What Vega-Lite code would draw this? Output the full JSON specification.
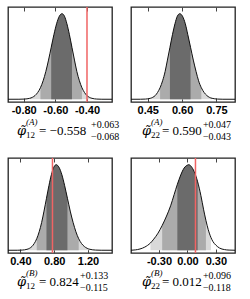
{
"$schema":"https://vega.github.io/schema/vega-lite/v6.json",
"padding":{"left":5,"top":5,"right":5,"bottom":5},
"bounds":"flush",
"columns":2,
"spacing":{"row":56,"column":19},
"config":{
 "view":{"stroke":"#222","strokeWidth":1.3},
 "locale":{"number":{"decimal":".","thousands":",","grouping":[3],"currency":["$",""],"minus":"-"}},
 "axis":{"domain":false,"grid":false,"labelFont":"Liberation Sans","labelFontWeight":"bold","labelFontSize":11,"labelColor":"#000","tickColor":"#444","tickSize":-4,"labelPadding":6,"tickWidth":1},
 "text":{"font":"Liberation Serif","align":"left","baseline":"alphabetic","color":"#000"}
},
"datasets":{
"curves":[
{"p":"A12","x":-0.899,"y":0,"lev":0},{"p":"A12","x":-0.830,"y":0.0003,"lev":0},{"p":"A12","x":-0.796,"y":0.0022,"lev":0},{"p":"A12","x":-0.762,"y":0.0111,"lev":1},{"p":"A12","x":-0.745,"y":0.0228,"lev":1},{"p":"A12","x":-0.728,"y":0.0439,"lev":1},{"p":"A12","x":-0.711,"y":0.0796,"lev":1},{"p":"A12","x":-0.694,"y":0.1353,"lev":2},{"p":"A12","x":-0.677,"y":0.2163,"lev":2},{"p":"A12","x":-0.660,"y":0.3247,"lev":2},{"p":"A12","x":-0.643,"y":0.4578,"lev":2},{"p":"A12","x":-0.626,"y":0.6065,"lev":3},{"p":"A12","x":-0.609,"y":0.7548,"lev":3},{"p":"A12","x":-0.592,"y":0.8825,"lev":3},{"p":"A12","x":-0.575,"y":0.9692,"lev":3},{"p":"A12","x":-0.558,"y":1,"lev":3},{"p":"A12","x":-0.542,"y":0.9692,"lev":3},{"p":"A12","x":-0.527,"y":0.8825,"lev":3},{"p":"A12","x":-0.511,"y":0.7548,"lev":3},{"p":"A12","x":-0.495,"y":0.6065,"lev":3},{"p":"A12","x":-0.479,"y":0.4578,"lev":2},{"p":"A12","x":-0.464,"y":0.3247,"lev":2},{"p":"A12","x":-0.448,"y":0.2163,"lev":2},{"p":"A12","x":-0.432,"y":0.1353,"lev":2},{"p":"A12","x":-0.416,"y":0.0796,"lev":1},{"p":"A12","x":-0.401,"y":0.0439,"lev":1},{"p":"A12","x":-0.385,"y":0.0228,"lev":1},{"p":"A12","x":-0.369,"y":0.0111,"lev":1},{"p":"A12","x":-0.338,"y":0.0022,"lev":0},{"p":"A12","x":-0.306,"y":0.0003,"lev":0},{"p":"A12","x":-0.242,"y":0,"lev":0},
{"p":"A22","x":0.377,"y":0,"lev":0},{"p":"A22","x":0.418,"y":0.0003,"lev":0},{"p":"A22","x":0.440,"y":0.0022,"lev":0},{"p":"A22","x":0.461,"y":0.0111,"lev":1},{"p":"A22","x":0.472,"y":0.0228,"lev":1},{"p":"A22","x":0.483,"y":0.0439,"lev":1},{"p":"A22","x":0.493,"y":0.0796,"lev":1},{"p":"A22","x":0.504,"y":0.1353,"lev":2},{"p":"A22","x":0.515,"y":0.2163,"lev":2},{"p":"A22","x":0.526,"y":0.3247,"lev":2},{"p":"A22","x":0.536,"y":0.4578,"lev":2},{"p":"A22","x":0.547,"y":0.6065,"lev":3},{"p":"A22","x":0.558,"y":0.7548,"lev":3},{"p":"A22","x":0.569,"y":0.8825,"lev":3},{"p":"A22","x":0.579,"y":0.9692,"lev":3},{"p":"A22","x":0.590,"y":1,"lev":3},{"p":"A22","x":0.602,"y":0.9692,"lev":3},{"p":"A22","x":0.614,"y":0.8825,"lev":3},{"p":"A22","x":0.625,"y":0.7548,"lev":3},{"p":"A22","x":0.637,"y":0.6065,"lev":3},{"p":"A22","x":0.649,"y":0.4578,"lev":2},{"p":"A22","x":0.661,"y":0.3247,"lev":2},{"p":"A22","x":0.672,"y":0.2163,"lev":2},{"p":"A22","x":0.684,"y":0.1353,"lev":2},{"p":"A22","x":0.696,"y":0.0796,"lev":1},{"p":"A22","x":0.708,"y":0.0439,"lev":1},{"p":"A22","x":0.719,"y":0.0228,"lev":1},{"p":"A22","x":0.731,"y":0.0111,"lev":1},{"p":"A22","x":0.755,"y":0.0022,"lev":0},{"p":"A22","x":0.778,"y":0.0003,"lev":0},{"p":"A22","x":0.831,"y":0,"lev":0},
{"p":"B12","x":0.254,"y":0,"lev":0},{"p":"B12","x":0.364,"y":0.0003,"lev":0},{"p":"B12","x":0.422,"y":0.0022,"lev":0},{"p":"B12","x":0.479,"y":0.0111,"lev":1},{"p":"B12","x":0.508,"y":0.0228,"lev":1},{"p":"B12","x":0.537,"y":0.0439,"lev":1},{"p":"B12","x":0.565,"y":0.0796,"lev":1},{"p":"B12","x":0.594,"y":0.1353,"lev":2},{"p":"B12","x":0.623,"y":0.2163,"lev":2},{"p":"B12","x":0.652,"y":0.3247,"lev":2},{"p":"B12","x":0.680,"y":0.4578,"lev":2},{"p":"B12","x":0.709,"y":0.6065,"lev":3},{"p":"B12","x":0.738,"y":0.7548,"lev":3},{"p":"B12","x":0.767,"y":0.8825,"lev":3},{"p":"B12","x":0.795,"y":0.9692,"lev":3},{"p":"B12","x":0.824,"y":1,"lev":3},{"p":"B12","x":0.857,"y":0.9692,"lev":3},{"p":"B12","x":0.891,"y":0.8825,"lev":3},{"p":"B12","x":0.924,"y":0.7548,"lev":3},{"p":"B12","x":0.957,"y":0.6065,"lev":3},{"p":"B12","x":0.990,"y":0.4578,"lev":2},{"p":"B12","x":1.024,"y":0.3247,"lev":2},{"p":"B12","x":1.057,"y":0.2163,"lev":2},{"p":"B12","x":1.090,"y":0.1353,"lev":2},{"p":"B12","x":1.123,"y":0.0796,"lev":1},{"p":"B12","x":1.157,"y":0.0439,"lev":1},{"p":"B12","x":1.190,"y":0.0228,"lev":1},{"p":"B12","x":1.223,"y":0.0111,"lev":1},{"p":"B12","x":1.290,"y":0.0022,"lev":0},{"p":"B12","x":1.356,"y":0.0003,"lev":0},{"p":"B12","x":1.484,"y":0,"lev":0},
{"p":"B22","x":-0.595,"y":0,"lev":0},{"p":"B22","x":-0.55,"y":0.004,"lev":0},{"p":"B22","x":-0.50,"y":0.015,"lev":0},{"p":"B22","x":-0.45,"y":0.037,"lev":0},{"p":"B22","x":-0.39,"y":0.085,"lev":1},{"p":"B22","x":-0.355,"y":0.13,"lev":1},{"p":"B22","x":-0.31,"y":0.20,"lev":1},{"p":"B22","x":-0.266,"y":0.29,"lev":2},{"p":"B22","x":-0.22,"y":0.40,"lev":2},{"p":"B22","x":-0.177,"y":0.52,"lev":2},{"p":"B22","x":-0.14,"y":0.65,"lev":2},{"p":"B22","x":-0.106,"y":0.77,"lev":3},{"p":"B22","x":-0.07,"y":0.88,"lev":3},{"p":"B22","x":-0.035,"y":0.96,"lev":3},{"p":"B22","x":0.0,"y":0.995,"lev":3},{"p":"B22","x":0.012,"y":1.0,"lev":3},{"p":"B22","x":0.04,"y":0.98,"lev":3},{"p":"B22","x":0.071,"y":0.92,"lev":3},{"p":"B22","x":0.108,"y":0.80,"lev":3},{"p":"B22","x":0.142,"y":0.64,"lev":2},{"p":"B22","x":0.17,"y":0.48,"lev":2},{"p":"B22","x":0.195,"y":0.35,"lev":2},{"p":"B22","x":0.22,"y":0.24,"lev":1},{"p":"B22","x":0.248,"y":0.15,"lev":1},{"p":"B22","x":0.27,"y":0.10,"lev":0},{"p":"B22","x":0.30,"y":0.06,"lev":0},{"p":"B22","x":0.34,"y":0.025,"lev":0},{"p":"B22","x":0.39,"y":0.008,"lev":0},{"p":"B22","x":0.44,"y":0.002,"lev":0},{"p":"B22","x":0.502,"y":0,"lev":0}
],
"truth":[{"p":"A12","v":-0.40},{"p":"B12","v":0.78},{"p":"B22","v":0.085}]
},
"concat":[
{"width":104,"height":95,"resolve":{"axis":{"x":"independent","y":"independent"}},
 "layer":[
  {"data":{"name":"curves"},"transform":[{"filter":"datum.p==='A12' && datum.lev>=1"}],"mark":{"type":"area","color":"#d9d9d9","interpolate":"monotone"},
   "encoding":{"x":{"field":"x","type":"quantitative","title":null,"scale":{"domain":[-0.899,-0.242],"nice":false,"zero":false},"axis":{"orient":"bottom","values":[-0.8,-0.6,-0.4],"format":".2f"}},"y":{"field":"y","type":"quantitative","scale":{"domain":[-0.032,1.078],"nice":false,"zero":false},"axis":null}}},
  {"data":{"name":"curves"},"transform":[{"filter":"datum.p==='A12' && datum.lev>=2"}],"mark":{"type":"area","color":"#ababab","interpolate":"monotone"},
   "encoding":{"x":{"field":"x","type":"quantitative","axis":null},"y":{"field":"y","type":"quantitative","axis":null}}},
  {"data":{"name":"curves"},"transform":[{"filter":"datum.p==='A12' && datum.lev>=3"}],"mark":{"type":"area","color":"#6b6b6b","interpolate":"monotone"},
   "encoding":{"x":{"field":"x","type":"quantitative","axis":null},"y":{"field":"y","type":"quantitative","axis":null}}},
  {"data":{"name":"curves"},"transform":[{"filter":"datum.p==='A12'"}],"mark":{"type":"line","color":"#111","strokeWidth":1,"interpolate":"monotone"},
   "encoding":{"x":{"field":"x","type":"quantitative","title":null,"axis":{"orient":"top","values":[-0.8,-0.6,-0.4],"labels":false}},"y":{"field":"y","type":"quantitative","axis":null}}},
  {"data":{"name":"truth"},"transform":[{"filter":"datum.p==='A12'"}],"mark":{"type":"rule","color":"#f06464","strokeWidth":1.5},
   "encoding":{"x":{"field":"v","type":"quantitative","axis":null}}},
  {"data":{"values":[{}]},"mark":{"type":"text","text":"φ̃","font":"DejaVu Serif","fontSize":13,"fontStyle":"italic"},"encoding":{"x":{"datum":-0.842,"axis":null},"y":{"datum":-0.418,"axis":null}}},
  {"data":{"values":[{}]},"mark":{"type":"text","text":"(A)","fontSize":9,"fontStyle":"italic"},"encoding":{"x":{"datum":-0.785,"axis":null},"y":{"datum":-0.301,"axis":null}}},
  {"data":{"values":[{}]},"mark":{"type":"text","text":"12","fontSize":9},"encoding":{"x":{"datum":-0.785,"axis":null},"y":{"datum":-0.453,"axis":null}}},
  {"data":{"values":[{}]},"mark":{"type":"text","text":"= −0.558","fontSize":13},"encoding":{"x":{"datum":-0.703,"axis":null},"y":{"datum":-0.418,"axis":null}}},
  {"data":{"values":[{}]},"mark":{"type":"text","text":"+0.063","fontSize":10},"encoding":{"x":{"datum":-0.374,"axis":null},"y":{"datum":-0.336,"axis":null}}},
  {"data":{"values":[{}]},"mark":{"type":"text","text":"−0.068","fontSize":10},"encoding":{"x":{"datum":-0.374,"axis":null},"y":{"datum":-0.476,"axis":null}}}
 ]},
{"width":104,"height":95,"resolve":{"axis":{"x":"independent","y":"independent"}},
 "layer":[
  {"data":{"name":"curves"},"transform":[{"filter":"datum.p==='A22' && datum.lev>=1"}],"mark":{"type":"area","color":"#d9d9d9","interpolate":"monotone"},
   "encoding":{"x":{"field":"x","type":"quantitative","title":null,"scale":{"domain":[0.377,0.831],"nice":false,"zero":false},"axis":{"orient":"bottom","values":[0.45,0.6,0.75],"format":".2f"}},"y":{"field":"y","type":"quantitative","scale":{"domain":[-0.032,1.078],"nice":false,"zero":false},"axis":null}}},
  {"data":{"name":"curves"},"transform":[{"filter":"datum.p==='A22' && datum.lev>=2"}],"mark":{"type":"area","color":"#ababab","interpolate":"monotone"},
   "encoding":{"x":{"field":"x","type":"quantitative","axis":null},"y":{"field":"y","type":"quantitative","axis":null}}},
  {"data":{"name":"curves"},"transform":[{"filter":"datum.p==='A22' && datum.lev>=3"}],"mark":{"type":"area","color":"#6b6b6b","interpolate":"monotone"},
   "encoding":{"x":{"field":"x","type":"quantitative","axis":null},"y":{"field":"y","type":"quantitative","axis":null}}},
  {"data":{"name":"curves"},"transform":[{"filter":"datum.p==='A22'"}],"mark":{"type":"line","color":"#111","strokeWidth":1,"interpolate":"monotone"},
   "encoding":{"x":{"field":"x","type":"quantitative","title":null,"axis":{"orient":"top","values":[0.45,0.6,0.75],"labels":false}},"y":{"field":"y","type":"quantitative","axis":null}}},
  {"data":{"values":[{}]},"mark":{"type":"text","text":"φ̃","font":"DejaVu Serif","fontSize":13,"fontStyle":"italic"},"encoding":{"x":{"datum":0.425,"axis":null},"y":{"datum":-0.418,"axis":null}}},
  {"data":{"values":[{}]},"mark":{"type":"text","text":"(A)","fontSize":9,"fontStyle":"italic"},"encoding":{"x":{"datum":0.464,"axis":null},"y":{"datum":-0.301,"axis":null}}},
  {"data":{"values":[{}]},"mark":{"type":"text","text":"22","fontSize":9},"encoding":{"x":{"datum":0.464,"axis":null},"y":{"datum":-0.453,"axis":null}}},
  {"data":{"values":[{}]},"mark":{"type":"text","text":"= 0.590","fontSize":13},"encoding":{"x":{"datum":0.512,"axis":null},"y":{"datum":-0.418,"axis":null}}},
  {"data":{"values":[{}]},"mark":{"type":"text","text":"+0.047","fontSize":10},"encoding":{"x":{"datum":0.691,"axis":null},"y":{"datum":-0.336,"axis":null}}},
  {"data":{"values":[{}]},"mark":{"type":"text","text":"−0.043","fontSize":10},"encoding":{"x":{"datum":0.691,"axis":null},"y":{"datum":-0.476,"axis":null}}}
 ]},
{"width":104,"height":95,"resolve":{"axis":{"x":"independent","y":"independent"}},
 "layer":[
  {"data":{"name":"curves"},"transform":[{"filter":"datum.p==='B12' && datum.lev>=1"}],"mark":{"type":"area","color":"#d9d9d9","interpolate":"monotone"},
   "encoding":{"x":{"field":"x","type":"quantitative","title":null,"scale":{"domain":[0.254,1.484],"nice":false,"zero":false},"axis":{"orient":"bottom","values":[0.4,0.8,1.2],"format":".2f"}},"y":{"field":"y","type":"quantitative","scale":{"domain":[-0.032,1.078],"nice":false,"zero":false},"axis":null}}},
  {"data":{"name":"curves"},"transform":[{"filter":"datum.p==='B12' && datum.lev>=2"}],"mark":{"type":"area","color":"#ababab","interpolate":"monotone"},
   "encoding":{"x":{"field":"x","type":"quantitative","axis":null},"y":{"field":"y","type":"quantitative","axis":null}}},
  {"data":{"name":"curves"},"transform":[{"filter":"datum.p==='B12' && datum.lev>=3"}],"mark":{"type":"area","color":"#6b6b6b","interpolate":"monotone"},
   "encoding":{"x":{"field":"x","type":"quantitative","axis":null},"y":{"field":"y","type":"quantitative","axis":null}}},
  {"data":{"name":"curves"},"transform":[{"filter":"datum.p==='B12'"}],"mark":{"type":"line","color":"#111","strokeWidth":1,"interpolate":"monotone"},
   "encoding":{"x":{"field":"x","type":"quantitative","title":null,"axis":{"orient":"top","values":[0.4,0.8,1.2],"labels":false}},"y":{"field":"y","type":"quantitative","axis":null}}},
  {"data":{"name":"truth"},"transform":[{"filter":"datum.p==='B12'"}],"mark":{"type":"rule","color":"#f06464","strokeWidth":1.5},
   "encoding":{"x":{"field":"v","type":"quantitative","axis":null}}},
  {"data":{"values":[{}]},"mark":{"type":"text","text":"φ̃","font":"DejaVu Serif","fontSize":13,"fontStyle":"italic"},"encoding":{"x":{"datum":0.360,"axis":null},"y":{"datum":-0.418,"axis":null}}},
  {"data":{"values":[{}]},"mark":{"type":"text","text":"(B)","fontSize":9,"fontStyle":"italic"},"encoding":{"x":{"datum":0.467,"axis":null},"y":{"datum":-0.301,"axis":null}}},
  {"data":{"values":[{}]},"mark":{"type":"text","text":"12","fontSize":9},"encoding":{"x":{"datum":0.467,"axis":null},"y":{"datum":-0.453,"axis":null}}},
  {"data":{"values":[{}]},"mark":{"type":"text","text":"= 0.824","fontSize":13},"encoding":{"x":{"datum":0.621,"axis":null},"y":{"datum":-0.418,"axis":null}}},
  {"data":{"values":[{}]},"mark":{"type":"text","text":"+0.133","fontSize":10},"encoding":{"x":{"datum":1.106,"axis":null},"y":{"datum":-0.336,"axis":null}}},
  {"data":{"values":[{}]},"mark":{"type":"text","text":"−0.115","fontSize":10},"encoding":{"x":{"datum":1.106,"axis":null},"y":{"datum":-0.476,"axis":null}}}
 ]},
{"width":104,"height":95,"resolve":{"axis":{"x":"independent","y":"independent"}},
 "layer":[
  {"data":{"name":"curves"},"transform":[{"filter":"datum.p==='B22' && datum.lev>=1"}],"mark":{"type":"area","color":"#d9d9d9","interpolate":"monotone"},
   "encoding":{"x":{"field":"x","type":"quantitative","title":null,"scale":{"domain":[-0.595,0.502],"nice":false,"zero":false},"axis":{"orient":"bottom","values":[-0.3,0,0.3],"format":".2f"}},"y":{"field":"y","type":"quantitative","scale":{"domain":[-0.032,1.078],"nice":false,"zero":false},"axis":null}}},
  {"data":{"name":"curves"},"transform":[{"filter":"datum.p==='B22' && datum.lev>=2"}],"mark":{"type":"area","color":"#ababab","interpolate":"monotone"},
   "encoding":{"x":{"field":"x","type":"quantitative","axis":null},"y":{"field":"y","type":"quantitative","axis":null}}},
  {"data":{"name":"curves"},"transform":[{"filter":"datum.p==='B22' && datum.lev>=3"}],"mark":{"type":"area","color":"#6b6b6b","interpolate":"monotone"},
   "encoding":{"x":{"field":"x","type":"quantitative","axis":null},"y":{"field":"y","type":"quantitative","axis":null}}},
  {"data":{"name":"curves"},"transform":[{"filter":"datum.p==='B22'"}],"mark":{"type":"line","color":"#111","strokeWidth":1,"interpolate":"monotone"},
   "encoding":{"x":{"field":"x","type":"quantitative","title":null,"axis":{"orient":"top","values":[-0.3,0,0.3],"labels":false}},"y":{"field":"y","type":"quantitative","axis":null}}},
  {"data":{"name":"truth"},"transform":[{"filter":"datum.p==='B22'"}],"mark":{"type":"rule","color":"#f06464","strokeWidth":1.5},
   "encoding":{"x":{"field":"v","type":"quantitative","axis":null}}},
  {"data":{"values":[{}]},"mark":{"type":"text","text":"φ̃","font":"DejaVu Serif","fontSize":13,"fontStyle":"italic"},"encoding":{"x":{"datum":-0.479,"axis":null},"y":{"datum":-0.418,"axis":null}}},
  {"data":{"values":[{}]},"mark":{"type":"text","text":"(B)","fontSize":9,"fontStyle":"italic"},"encoding":{"x":{"datum":-0.384,"axis":null},"y":{"datum":-0.301,"axis":null}}},
  {"data":{"values":[{}]},"mark":{"type":"text","text":"22","fontSize":9},"encoding":{"x":{"datum":-0.384,"axis":null},"y":{"datum":-0.453,"axis":null}}},
  {"data":{"values":[{}]},"mark":{"type":"text","text":"= 0.012","fontSize":13},"encoding":{"x":{"datum":-0.268,"axis":null},"y":{"datum":-0.418,"axis":null}}},
  {"data":{"values":[{}]},"mark":{"type":"text","text":"+0.096","fontSize":10},"encoding":{"x":{"datum":0.164,"axis":null},"y":{"datum":-0.336,"axis":null}}},
  {"data":{"values":[{}]},"mark":{"type":"text","text":"−0.118","fontSize":10},"encoding":{"x":{"datum":0.164,"axis":null},"y":{"datum":-0.476,"axis":null}}}
 ]}
]
}
